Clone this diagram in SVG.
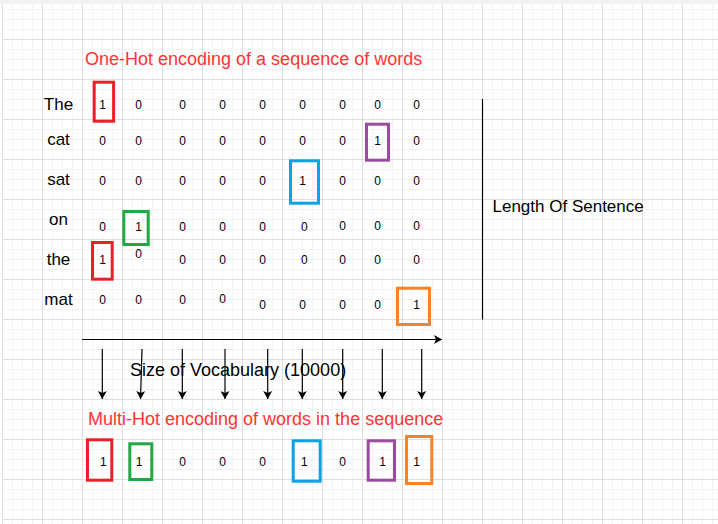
<svg xmlns="http://www.w3.org/2000/svg" width="718" height="524" viewBox="0 0 718 524">
<style>
.lbl{font-family:"Liberation Sans",Arial,sans-serif;font-size:17px;fill:#000;text-anchor:middle}
.num{font-family:"Liberation Sans",Arial,sans-serif;font-size:12px;fill:#000;text-anchor:middle}
.title{font-family:"Liberation Sans",Arial,sans-serif;font-size:18px;fill:#ff3333}
.big{font-family:"Liberation Sans",Arial,sans-serif;font-size:18px;fill:#000}
.box{fill:none;stroke-width:3}
.red{stroke:#e8202a}.green{stroke:#1fa843}.blue{stroke:#0ea2e3}.purple{stroke:#9b4a9e}.orange{stroke:#f6822a}
.conn{stroke:#000;stroke-width:1.2;fill:none}
</style>
<defs>
<pattern id="grid" patternUnits="userSpaceOnUse" x="2" y="-1" width="40" height="40">
<path d="M10.5,0V40M20.5,0V40M30.5,0V40M0,10.5H40M0,20.5H40M0,30.5H40" stroke="#f3f3f3" stroke-width="1"/>
<path d="M0.5,0V40M0,0.5H40" stroke="#dedede" stroke-width="1"/>
</pattern>
<marker id="arr" markerUnits="userSpaceOnUse" viewBox="0 0 8 9" refX="8" refY="4.5" markerWidth="8" markerHeight="9" orient="auto">
<path d="M0,0 L8,4.5 L0,9 L2,4.5 Z" fill="#000"/>
</marker>
</defs>
<rect width="718" height="524" fill="#fff"/>
<rect x="2" y="0" width="716" height="524" fill="url(#grid)"/>
<rect x="0" y="0" width="718" height="4" fill="#f2f2f2"/>

<g id="title-onehot"><text class="title" x="85" y="65">One-Hot encoding of a sequence of words</text></g>

<g id="labels">
<text class="lbl" x="58.5" y="110">The</text>
<text class="lbl" x="58.5" y="145">cat</text>
<text class="lbl" x="58.5" y="185">sat</text>
<text class="lbl" x="58.5" y="224.5">on</text>
<text class="lbl" x="58.5" y="264.5">the</text>
<text class="lbl" x="58.5" y="305">mat</text>
</g>

<g id="row-the">
<text class="num" x="102.7" y="109.3">1</text><text class="num" x="138.7" y="109.3">0</text><text class="num" x="182.7" y="109.3">0</text><text class="num" x="222.7" y="109.3">0</text><text class="num" x="262.7" y="109.3">0</text><text class="num" x="302.7" y="109.3">0</text><text class="num" x="342.7" y="109.3">0</text><text class="num" x="377.7" y="109.3">0</text><text class="num" x="416.7" y="109.3">0</text>
</g>
<g id="row-cat">
<text class="num" x="102.7" y="144.5">0</text><text class="num" x="138.7" y="144.5">0</text><text class="num" x="182.7" y="144.5">0</text><text class="num" x="222.7" y="144.5">0</text><text class="num" x="262.7" y="144.5">0</text><text class="num" x="302.7" y="144.5">0</text><text class="num" x="342.7" y="144.5">0</text><text class="num" x="377.7" y="144.5">1</text><text class="num" x="416.7" y="144.5">0</text>
</g>
<g id="row-sat">
<text class="num" x="102.7" y="185">0</text><text class="num" x="138.7" y="185">0</text><text class="num" x="182.7" y="185">0</text><text class="num" x="222.7" y="185">0</text><text class="num" x="262.7" y="185">0</text><text class="num" x="302.7" y="185">1</text><text class="num" x="342.7" y="185">0</text><text class="num" x="377.7" y="185">0</text><text class="num" x="416.7" y="185">0</text>
</g>
<g id="row-on">
<text class="num" x="102.7" y="231">0</text><text class="num" x="138.7" y="231">1</text><text class="num" x="182.7" y="231">0</text><text class="num" x="222.7" y="231">0</text><text class="num" x="262.7" y="231">0</text><text class="num" x="304.3" y="231">0</text><text class="num" x="342.7" y="230.3">0</text><text class="num" x="377.7" y="230.3">0</text><text class="num" x="416.7" y="230.3">0</text>
</g>
<g id="row-the2">
<text class="num" x="102.7" y="264">1</text><text class="num" x="138.7" y="258.3">0</text><text class="num" x="182.7" y="264">0</text><text class="num" x="222.7" y="264">0</text><text class="num" x="262.7" y="264">0</text><text class="num" x="304.3" y="264">0</text><text class="num" x="342.7" y="264">0</text><text class="num" x="377.7" y="264">0</text><text class="num" x="416.7" y="264">0</text>
</g>
<g id="row-mat">
<text class="num" x="102.7" y="304">0</text><text class="num" x="138.7" y="304">0</text><text class="num" x="182.7" y="304">0</text><text class="num" x="222.7" y="303.3">0</text><text class="num" x="262.7" y="308.7">0</text><text class="num" x="302.7" y="308.7">0</text><text class="num" x="342.7" y="308.7">0</text><text class="num" x="377.7" y="308.7">0</text><text class="num" x="416.7" y="309">1</text>
</g>

<g id="boxes-top">
<rect class="box red" x="94.2" y="82.2" width="19.4" height="39"/>
<rect class="box purple" x="366.5" y="124.2" width="22" height="36"/>
<rect class="box blue" x="290.5" y="160.8" width="28" height="42.4"/>
<rect class="box green" x="123.8" y="211.5" width="24.4" height="33"/>
<rect class="box red" x="92.5" y="242.5" width="19.7" height="36.7"/>
<rect class="box orange" x="397.5" y="288.2" width="32" height="36.3"/>
</g>

<g id="length-of-sentence">
<line x1="482.5" y1="99" x2="482.5" y2="319.5" stroke="#000" stroke-width="1.2"/>
<text class="lbl" x="492.5" y="212" style="text-anchor:start">Length Of Sentence</text>
</g>

<g id="vocab-label"><text class="big" x="130" y="376">Size of Vocabulary (10000)</text></g>

<g id="connectors">
<line class="conn" x1="82" y1="339.5" x2="442" y2="339.5" marker-end="url(#arr)"/>
<line class="conn" x1="102.3" y1="349" x2="102.3" y2="399" marker-end="url(#arr)"/>
<line class="conn" x1="142" y1="349" x2="140.5" y2="399" marker-end="url(#arr)"/>
<line class="conn" x1="182.3" y1="349" x2="182.3" y2="399" marker-end="url(#arr)"/>
<line class="conn" x1="225" y1="349" x2="225" y2="399" marker-end="url(#arr)"/>
<line class="conn" x1="267.7" y1="349" x2="267.7" y2="399" marker-end="url(#arr)"/>
<line class="conn" x1="302.3" y1="349" x2="302.3" y2="399" marker-end="url(#arr)"/>
<line class="conn" x1="342.7" y1="349" x2="342.7" y2="399" marker-end="url(#arr)"/>
<line class="conn" x1="382.3" y1="349" x2="382.3" y2="399" marker-end="url(#arr)"/>
<line class="conn" x1="421.7" y1="349" x2="421.7" y2="399" marker-end="url(#arr)"/>
</g>

<g id="title-multihot"><text class="title" x="88" y="424.5">Multi-Hot encoding of words in the sequence</text></g>

<g id="row-multihot">
<text class="num" x="103.3" y="466">1</text><text class="num" x="139" y="466">1</text><text class="num" x="182.7" y="466">0</text><text class="num" x="222.7" y="466">0</text><text class="num" x="262.7" y="466">0</text><text class="num" x="304.3" y="466">1</text><text class="num" x="342.7" y="466">0</text><text class="num" x="382.7" y="466">1</text><text class="num" x="416.7" y="466">1</text>
</g>
<g id="boxes-bottom">
<rect class="box red" x="87.5" y="439.8" width="24.3" height="40.4"/>
<rect class="box green" x="129.8" y="443.8" width="22" height="35.7"/>
<rect class="box blue" x="293.2" y="440.8" width="27" height="40.4"/>
<rect class="box purple" x="368.2" y="440.8" width="26.3" height="39.4"/>
<rect class="box orange" x="406.5" y="436.5" width="25.3" height="47"/>
</g>
</svg>
